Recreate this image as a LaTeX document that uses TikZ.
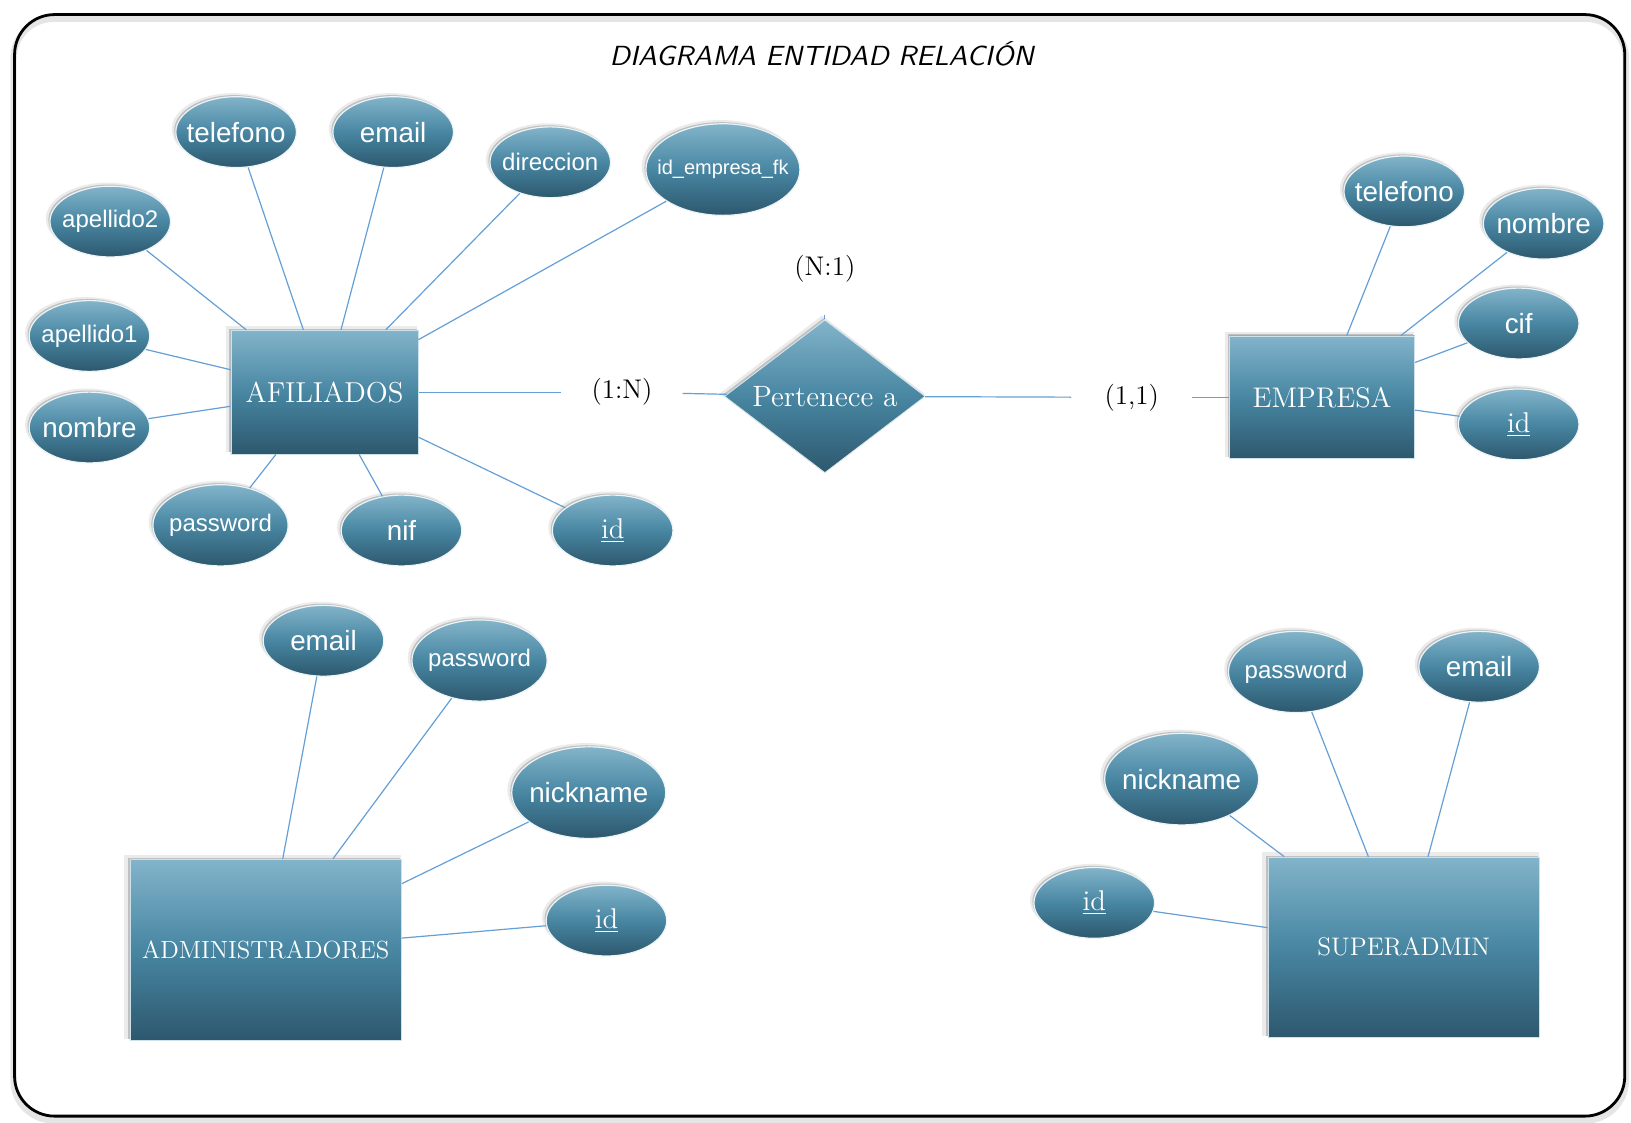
\documentclass[tikz,border=0pt]{standalone}
\usepackage{fontspec}
\usepackage{graphicx}
\newfontfamily\arialf{Liberation Sans}
\usetikzlibrary{shapes.geometric,shadows,calc}
\definecolor{gtop}{RGB}{130,180,202}
\definecolor{gmid}{RGB}{72,134,162}
\definecolor{gbot}{RGB}{45,88,110}
\definecolor{linec}{RGB}{100,160,215}
\newcommand\attxt[1]{\makebox[0pt]{#1}}
\begin{document}
\begin{tikzpicture}[x=0.5201pt,y=-0.5201pt,
  soft/.style={general shadow={shadow xshift=-1.4pt,shadow yshift=1.4pt,fill=black,opacity=0.08,shadow scale=1.02},
               general shadow={shadow xshift=-0.8pt,shadow yshift=0.8pt,fill=black,opacity=0.18}},
  grad/.style={top color=gtop,bottom color=gbot,middle color=gmid},
  entity/.style={rectangle,grad,soft,draw=white!60!gtop,line width=0.4pt,text=white,inner sep=0pt},
  attr/.style={ellipse,grad,soft,draw=white!85!gtop,line width=0.6pt,text=white,inner sep=0pt},
  as/.style={minimum width=60.3pt,minimum height=35.4pt},
  am/.style={minimum width=67.6pt,minimum height=40.6pt},
  al/.style={minimum width=77pt,minimum height=45.8pt},
  fbig/.style={font=\arialf\fontsize{13.9}{16}\selectfont},
  fmid/.style={font=\arialf\fontsize{12}{14}\selectfont},
  fsml/.style={font=\arialf\fontsize{10}{12}\selectfont},
  fkey/.style={font=\fontsize{14.3}{16}\selectfont},
  card/.style={rectangle,inner sep=0pt,minimum width=60.3pt,minimum height=14pt,font=\fontsize{13.5}{15}\selectfont},
  conn/.style={draw=linec,line width=0.6pt}]
\useasboundingbox (0,0) rectangle (1568,1079);
\fill[white] (0,0) rectangle (1568,1079);
% frame
\draw[line width=3.2pt,black,opacity=0.10,rounded corners=20pt] (13,18) rectangle (1563,1077);
\draw[line width=1.4pt,black,rounded corners=20pt] (14,14) rectangle (1562,1073);
\node[font=\sffamily\itshape] (title) at (790,52) {\resizebox{212pt}{12pt}{DIAGRAMA ENTIDAD RELACI\'ON}};

% AFILIADOS
\node[entity,minimum width=93.6pt,minimum height=61.9pt,font=\fontsize{14.4}{16}\selectfont] (afil) at (312,377) {AFILIADOS};
\node[attr,as,fbig] (af_tel) at (227,127) {\attxt{telefono}};
\node[attr,as,fbig] (af_email) at (378,127) {\attxt{email}};
\node[attr,as,fmid] (af_dir) at (529,156) {\attxt{direccion}};
\node[attr,al,fsml] (af_fk) at (695,163) {\attxt{id\_empresa\_fk}};
\node[attr,as,fmid] (af_ap2) at (106,213) {\attxt{apellido2}};
\node[attr,as,fmid] (af_ap1) at (86,323) {\attxt{apellido1}};
\node[attr,as,fbig] (af_nom) at (86,411) {\attxt{nombre}};
\node[attr,am,fmid] (af_pw) at (212,505) {\attxt{password}};
\node[attr,as,fbig] (af_nif) at (386,510) {\attxt{nif}};
\node[attr,as,fkey] (af_id) at (589,510) {\attxt{\underline{id}}};
\foreach \n in {af_tel,af_email,af_dir,af_fk,af_ap2,af_ap1,af_nom,af_pw,af_nif,af_id}
  \draw[conn] (\n) -- (afil);

% relation
\node[diamond,aspect=1.31,grad,soft,draw=white!70!gtop,line width=0.4pt,inner sep=0pt,minimum width=100.4pt,minimum height=76.5pt,
      text=white,font=\fontsize{14.7}{16}\selectfont] (rel) at (793,381) {Pertenece a};
\node[card] (c1n) at (598,377) {(1:N)};
\node[card] (c11) at (1088,382) {(1,1)};
\node[card,minimum height=45.8pt] (cn1) at (793,258) {(N:1)};
\draw[conn] (cn1.south) -- (rel.north);

% EMPRESA
\node[entity,minimum width=92.6pt,minimum height=61.4pt,font=\fontsize{14.2}{16}\selectfont] (emp) at (1271,382) {EMPRESA};
\node[attr,as,fbig] (em_tel) at (1350,184) {\attxt{telefono}};
\node[attr,as,fbig] (em_nom) at (1484,215) {\attxt{nombre}};
\node[attr,as,fbig] (em_cif) at (1460,311) {\attxt{cif}};
\node[attr,as,fkey] (em_id) at (1460,408) {\attxt{\underline{id}}};
\foreach \n in {em_tel,em_nom,em_cif,em_id}
  \draw[conn] (\n) -- (emp);

\draw[conn] (afil) -- (c1n);
\draw[conn] (c1n) -- (rel);
\draw[conn] (rel) -- (c11);
\draw[conn] (c11) -- (emp);

% ADMINISTRADORES
\node[entity,minimum width=135.7pt,minimum height=90.5pt,font=\fontsize{12.4}{14}\selectfont] (adm) at (255.5,913) {ADMINISTRADORES};
\node[attr,as,fbig] (ad_email) at (311,616) {\attxt{email}};
\node[attr,am,fmid] (ad_pw) at (461,635) {\attxt{password}};
\node[attr,al,fbig] (ad_nick) at (566,762) {\attxt{nickname}};
\node[attr,as,fkey] (ad_id) at (583,885) {\attxt{\underline{id}}};
\foreach \n in {ad_email,ad_pw,ad_nick,ad_id}
  \draw[conn] (\n) -- (adm);

% SUPERADMIN
\node[entity,minimum width=135.7pt,minimum height=90pt,font=\fontsize{12.7}{14}\selectfont] (sup) at (1349.5,910.5) {SUPERADMIN};
\node[attr,am,fmid] (su_pw) at (1246,646) {\attxt{password}};
\node[attr,as,fbig] (su_email) at (1422,641) {\attxt{email}};
\node[attr,al,fbig] (su_nick) at (1136,749) {\attxt{nickname}};
\node[attr,as,fkey] (su_id) at (1052,868) {\attxt{\underline{id}}};
\foreach \n in {su_pw,su_email,su_nick,su_id}
  \draw[conn] (\n) -- (sup);
\end{tikzpicture}
\end{document}
